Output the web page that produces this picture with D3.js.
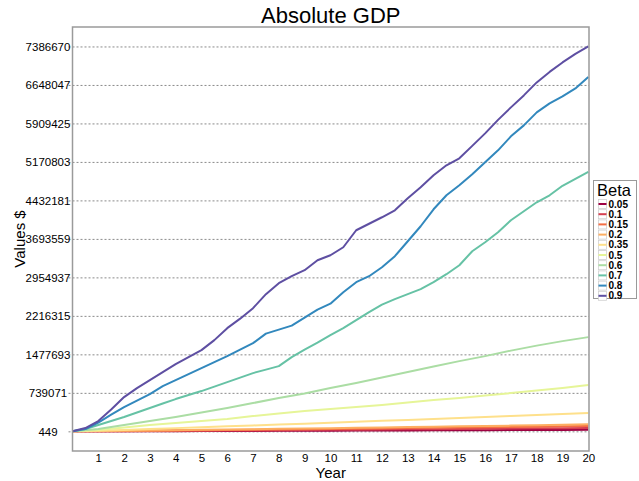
<!DOCTYPE html>
<html><head><meta charset="utf-8">
<script src="https://cdn.jsdelivr.net/npm/d3@7"></script>
<style>body{margin:0;background:#fff} svg{display:block;font-family:Arial,"Liberation Sans",sans-serif}</style>
</head><body><svg id="c" width="639" height="481"></svg>
<script>
// ---------- data ----------
const years = [0,1,2,3,4,5,6,7,8,9,10,11,12,13,14,15,16,17,18,19,20];
const halfYears = [0,0.5,1,1.5,2,2.5,3,3.5,4,4.5,5,5.5,6,6.5,7,7.5,8,8.5,9,9.5,10,10.5,11,11.5,12,12.5,13,13.5,14,14.5,15,15.5,16,16.5,17,17.5,18,18.5,19,19.5,20];
const betas = ["0.05","0.1","0.15","0.2","0.35","0.5","0.6","0.7","0.8","0.9"];
const yTicks = [449,739071,1477693,2216315,2954937,3693559,4432181,5170803,5909425,6648047,7386670];
const xTicks = [1,2,3,4,5,6,7,8,9,10,11,12,13,14,15,16,17,18,19,20];

const gdp005 = [449,500,1500,2500,4000,5500,7000,8500,10000,11500,13000,14500,16000,17500,19000,20500,22000,24000,26000,28000,30000];
const gdp010 = [449,1500,4000,6500,9500,12500,15500,18500,21500,25000,28500,32000,35500,39000,42500,46000,50000,54000,58000,61000,64000];
const gdp015 = [449,3500,8000,12500,17000,21500,26000,31000,36000,41000,46000,51000,56500,62000,67500,73000,78500,84000,90000,96000,102000];
const gdp020 = [449,5000,11000,17000,23000,29000,35500,42000,48500,55000,61500,68000,75000,82000,89000,96000,103000,110000,118000,126000,134000];
const gdp035 = [449,12000,28000,45000,62000,80000,97000,113000,130000,148000,166000,184000,202000,220000,239000,257000,276000,295000,313000,332000,351000];
const gdp050 = [449,25400,73300,121200,159600,197900,236200,293800,341700,389600,427900,466300,504600,552500,600500,638800,686700,734700,782600,830500,888000];
const gdp060 = [449,44500,121200,197900,274600,360800,447100,543000,638800,725100,830500,926400,1031800,1137200,1242700,1348100,1444000,1549400,1645200,1731500,1808200];
const gdp070 = [449,44500,121200,197900,274600,360800,447100,533400,619600,696300,773000,859300,945500,1031800,1118100,1185200,1252300,1424800,1568600,1702700,1846500,1980700,2134100,2287400,2431200,2536600,2632500,2728300,2862500,3015900,3188400,3456800,3629300,3821000,4051100,4223600,4396100,4530300,4712400,4846600,4980800];
const gdp080 = [449,44500,169100,322500,466300,590900,715500,868900,983900,1098900,1213900,1328900,1444000,1568600,1693200,1875300,1952000,2028600,2182000,2335400,2450400,2670800,2862500,2977600,3150100,3361000,3648500,3936100,4261900,4530300,4722000,4932900,5162900,5393000,5661400,5872200,6121400,6294000,6428200,6581500,6802000];
const gdp090 = [449,63700,197900,418400,658000,830500,983900,1137200,1290600,1424800,1559000,1750700,1980700,2162800,2364100,2632500,2843400,2977600,3092600,3284300,3380100,3533500,3859400,3984000,4108600,4242800,4472800,4683700,4913700,5105400,5239600,5479200,5718900,5977700,6217300,6447300,6696500,6897800,7079900,7242900,7386670];

const seriesValues = [gdp005,gdp010,gdp015,gdp020,gdp035,gdp050,gdp060,gdp070,gdp080,gdp090];
const seriesYears  = [years,years,years,years,years,years,years,halfYears,halfYears,halfYears];

// ---------- drawing ----------
const colors = ["#9E0142","#D53E4F","#F46D43","#FDAE61","#FEE08B","#E6F598","#ABDDA4","#66C2A5","#3288BD","#5E4FA2"];
const svg = d3.select("#c");
const L = 72.5, R = 589, T = 27, B = 451;
const x = d3.scaleLinear().domain([0,20]).range([L, 588.3]);
const y = d3.scaleLinear().domain([-377000, 7760000]).range([B, T]);
const FONT = "Arial, 'Liberation Sans', sans-serif";

// gridlines + y ticks
const gy = svg.append("g").attr("transform", `translate(${L},0)`)
  .call(d3.axisLeft(y).tickValues(yTicks).tickSize(-(R-L)).tickSizeOuter(0).tickFormat(d => d));
gy.select(".domain").remove();
gy.selectAll(".tick line").attr("stroke","#8a8a8a").attr("stroke-dasharray","2,2").attr("x1",-4);
gy.selectAll(".tick text").attr("x", 48 - L).attr("text-anchor","middle")
  .attr("font-size","11.5px").attr("fill","#000").attr("font-family",FONT);

// x labels
const gx = svg.append("g").attr("transform", `translate(0,${B})`)
  .call(d3.axisBottom(x).tickValues(xTicks).tickSize(0).tickPadding(3).tickFormat(d => d));
gx.select(".domain").remove();
gx.selectAll(".tick text").attr("font-size","11.5px").attr("fill","#000").attr("font-family",FONT);

// lines
const lineGen = d3.line().x(d => x(d[0])).y(d => y(d[1]));
const gl = svg.append("g");
seriesValues.forEach((vals, i) => {
  const pts = vals.map((v, j) => [seriesYears[i][j], v]);
  gl.append("path").attr("d", lineGen(pts)).attr("fill","none")
    .attr("stroke", colors[i]).attr("stroke-width", 2).attr("stroke-linejoin","round");
});

// frame
svg.append("rect").attr("x", L).attr("y", T).attr("width", R - L).attr("height", B - T)
  .attr("fill","none").attr("stroke","#9a9a9a").attr("stroke-width",1.5);

// titles
svg.append("text").attr("x", (L+R)/2).attr("y", 23).attr("text-anchor","middle")
  .attr("font-size","22px").text("Absolute GDP");
svg.append("text").attr("x", (L+R)/2).attr("y", 478).attr("text-anchor","middle")
  .attr("font-size","15px").text("Year");
svg.append("text").attr("transform", `translate(25,${(T+B)/2}) rotate(-90)`).attr("text-anchor","middle")
  .attr("font-size","15px").text("Values $");

// legend
const lg = svg.append("g");
lg.append("rect").attr("x",593.5).attr("y",180.5).attr("width",43).attr("height",118)
  .attr("fill","#fff").attr("stroke","#9a9a9a").attr("stroke-width",1);
lg.append("text").attr("x",597).attr("y",196).attr("font-size","16.5px").text("Beta");
betas.forEach((b, i) => {
  const cy = 204 + i * 10.2;
  lg.append("rect").attr("x",598.5).attr("y",cy-4.5).attr("width",8).attr("height",9)
    .attr("fill","#fff").attr("stroke","#d0d0d0").attr("stroke-width",0.8);
  lg.append("line").attr("x1",598.5).attr("x2",606.5).attr("y1",cy).attr("y2",cy)
    .attr("stroke",colors[i]).attr("stroke-width",2);
  lg.append("text").attr("x",608.5).attr("y",cy).attr("dy","0.35em")
    .attr("font-size","10px").attr("font-weight","bold").text(b);
});
</script></body></html>
